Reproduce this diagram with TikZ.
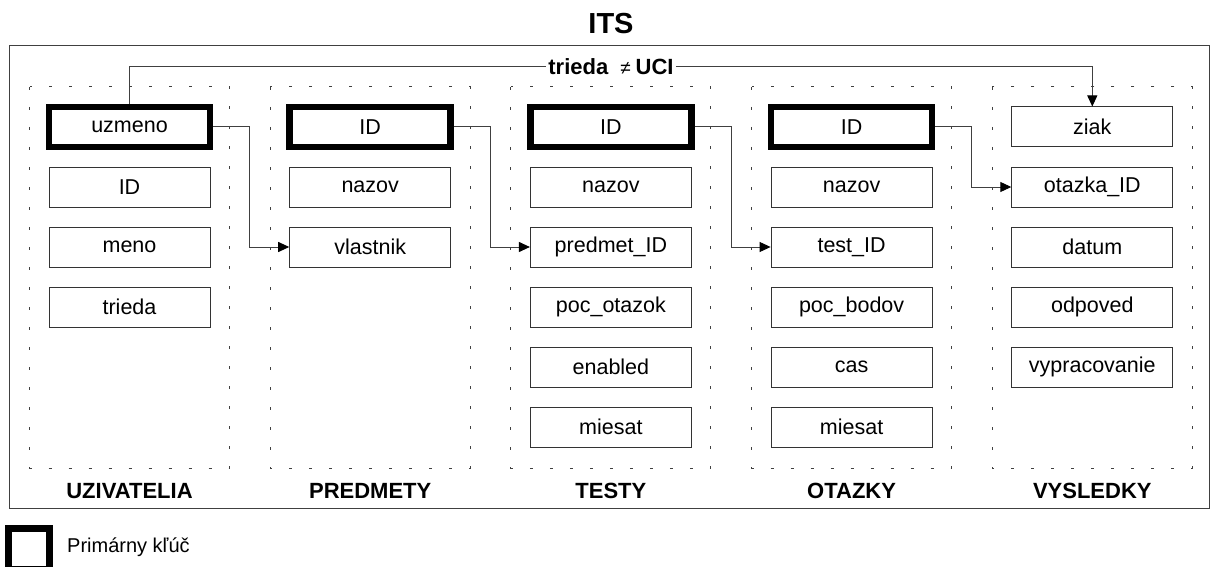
\documentclass[tikz,border=0pt]{standalone}
\usepackage{fontspec}
\setmainfont{Liberation Sans}
\usetikzlibrary{arrows.meta}
\begin{document}
\begin{tikzpicture}[x=1pt,y=-1pt,
  field/.style={draw=black!80, line width=1pt, minimum width=161pt, minimum height=40pt,
    inner sep=0pt, fill=white, font=\fontsize{21.5}{25}\selectfont},
  pkfield/.style={field, draw=black, line width=6.5pt},
  group/.style={draw=black!75, line width=1pt, dash pattern=on 3pt off 17pt},
  grouplabel/.style={font=\bfseries\fontsize{22}{26}\selectfont},
  conn/.style={draw=black!75, line width=1pt},
  arr/.style={conn, -{Triangle[length=11pt,width=10pt,fill=black,color=black]}}
]
\useasboundingbox (0,0) rectangle (1210,567);

% title and frame
\node[font=\bfseries\fontsize{29}{34}\selectfont] (title) at (611,24) {ITS};
\draw[draw=black!75, line width=1pt] (9,46) rectangle (1209.5,508);

% groups
\foreach \cx/\nm/\lab in {129.5/g1/UZIVATELIA, 370.2/g2/PREDMETY, 610.9/g3/TESTY, 851.6/g4/OTAZKY, 1092.3/g5/VYSLEDKY}{
  \draw[group] (\cx-100,87) rectangle (\cx+100,468);
  \node[grouplabel] (\nm) at (\cx,491) {\lab};
}

% UZIVATELIA
\node[pkfield] (u1) at (129.5,127) {uzmeno};
\node[field] (u2) at (129.5,187) {ID};
\node[field] (u3) at (129.5,247) {meno};
\node[field] (u4) at (129.5,307) {trieda};
% PREDMETY
\node[pkfield] (p1) at (370.2,127) {ID};
\node[field] (p2) at (370.2,187) {nazov};
\node[field] (p3) at (370.2,247) {vlastnik};
% TESTY
\node[pkfield] (t1) at (610.9,127) {ID};
\node[field] (t2) at (610.9,187) {nazov};
\node[field] (t3) at (610.9,247) {predmet\_ID};
\node[field] (t4) at (610.9,307) {poc\_otazok};
\node[field] (t5) at (610.9,367) {enabled};
\node[field] (t6) at (610.9,427) {miesat};
% OTAZKY
\node[pkfield] (o1) at (851.6,127) {ID};
\node[field] (o2) at (851.6,187) {nazov};
\node[field] (o3) at (851.6,247) {test\_ID};
\node[field] (o4) at (851.6,307) {poc\_bodov};
\node[field] (o5) at (851.6,367) {cas};
\node[field] (o6) at (851.6,427) {miesat};
% VYSLEDKY
\node[field] (v1) at (1092.3,127) {ziak};
\node[field] (v2) at (1092.3,187) {otazka\_ID};
\node[field] (v3) at (1092.3,247) {datum};
\node[field] (v4) at (1092.3,307) {odpoved};
\node[field] (v5) at (1092.3,367) {vypracovanie};

% bend points
\coordinate (b1) at (249.8,127);
\coordinate (b2) at (490.5,127);
\coordinate (b3) at (731.2,127);
\coordinate (b4) at (971.9,127);

\draw[arr] (u1.east) -- (b1) |- (p3.west);
\draw[arr] (p1.east) -- (b2) |- (t3.west);
\draw[arr] (t1.east) -- (b3) |- (o3.west);
\draw[arr] (o1.east) -- (b4) |- (v2.west);

% top relation
\node[font=\bfseries\fontsize{22}{26}\selectfont, inner sep=2pt] (rel) at (611,67) {trieda\hspace{12pt}{\mdseries\fontsize{19}{23}\selectfont ≠}\hspace{5pt}UCI};
\draw[conn] (u1.north) |- (rel.west);
\draw[arr] (rel.east) -| (v1.north);

% legend
\node[draw=black, line width=6.5pt, minimum size=41pt, inner sep=0pt] (leg) at (29,549) {};
\node[anchor=west, font=\fontsize{20}{24}\selectfont, inner sep=0pt] (legtext) at (67,547) {Primárny kľúč};
\end{tikzpicture}
\end{document}
